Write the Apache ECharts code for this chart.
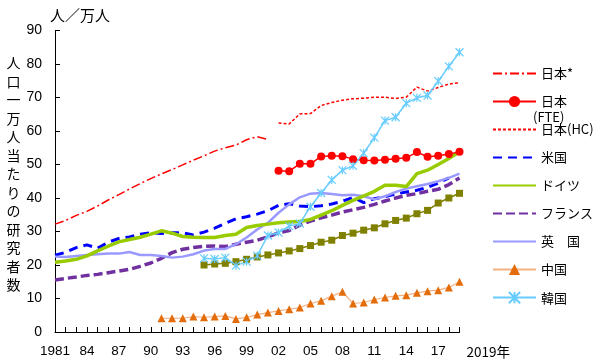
<!DOCTYPE html>
<html><head><meta charset="utf-8">
<script src="https://cdn.jsdelivr.net/npm/echarts@6/dist/echarts.min.js"></script>
<style>html,body{margin:0;padding:0;background:#fff}#c{width:600px;height:364px}</style>
</head><body><div id="c"></div>
<script>
// ---- data (researchers per 10,000 population) ----
const xMin = 1981, xMax = 2019;
const japanOldStart = 1981;
const japanOld = [32.2, 33.3, 34.8, 36.0, 37.6, 39.4, 41.0, 42.7, 44.3, 45.8, 47.2, 48.5, 49.9, 51.3, 52.6, 54.0, 55.0, 55.8, 57.4, 58.3, 57.5];
const japanFteStart = 2002;
const japanFte = [48.1, 48.0, 50.2, 50.2, 52.4, 52.6, 52.5, 51.6, 51.3, 51.2, 51.4, 51.7, 52.0, 53.7, 52.3, 52.6, 53.1, 53.8];
const japanHcStart = 2002;
const japanHc = [62.4, 62.1, 65.1, 65.2, 67.6, 68.5, 69.2, 69.6, 69.8, 70.1, 70.1, 69.7, 70.1, 73.1, 71.9, 73.0, 74.0, 74.4];
const usStart = 1981;
const us = [22.9, 23.8, 25.2, 26.0, 25.0, 26.8, 27.9, 28.4, 29.2, 29.6,
            29.4, 29.6, 29.6, 29.0, 29.8, 31.0, 32.4, 33.8, 34.4, 35.2,
            36.2, 37.8, 38.3, 37.6, 37.4, 37.7, 38.2, 39.0, 40.2, 38.6,
            39.8, 40.4, 41.2, 41.8, 42.3, 43.2, 44.4, 46.0];
const germanyStart = 1981;
const germany = [20.8, 21.2, 21.7, 22.7, 24.2, 25.6, 26.9, 27.6, 28.3, 29.2,
                 30.2, 29.5, 28.5, 28.3, 28.2, 28.2, 28.8, 29.2, 31.2, 31.8,
                 32.2, 32.6, 32.8, 33.0, 33.6, 34.9, 36.2, 37.8, 39.3, 40.6,
                 42.0, 43.8, 43.8, 43.4, 47.3, 48.3, 50.0, 51.8, 53.8];
const franceStart = 1981;
const france = [15.5, 16.0, 16.4, 16.9, 17.2, 17.7, 18.2, 18.7, 19.6, 20.6,
                22.0, 23.7, 24.7, 25.2, 25.6, 25.7, 25.5, 26.2, 26.8, 27.4,
                28.4, 29.6, 30.3, 31.9, 33.1, 34.1, 34.9, 35.8, 36.5, 37.2,
                38.1, 39.1, 40.0, 40.8, 41.3, 42.0, 42.6, 44.0, 46.0];
const ukStart = 1981;
const uk = [22.5, 22.4, 22.7, 23.0, 23.2, 23.4, 23.4, 23.9, 23.0, 23.0,
            22.7, 22.2, 22.5, 23.2, 24.3, 24.8, 24.8, 26.2, 28.2, 30.6,
            32.6, 35.6, 38.1, 40.2, 41.3, 41.5, 41.2, 40.8, 41.0, 40.5,
            39.6, 40.5, 41.8, 42.8, 43.5, 44.2, 45.0, 46.0, 47.3];
const chinaStart = 1991;
const china = [4.1, 4.1, 4.1, 4.6, 4.4, 4.6, 4.8, 3.9, 4.4, 5.2,
               5.8, 6.3, 6.8, 7.3, 8.5, 9.3, 10.7, 12.0, 8.5, 8.8,
               9.7, 10.3, 10.8, 11.0, 11.7, 12.2, 12.5, 13.3, 15.0];
const koreaStart = 1995;
const korea = [22.0, 21.8, 22.2, 19.8, 21.0, 22.8,
               28.8, 29.7, 31.6, 32.4, 37.4, 41.5, 45.4, 48.3, 49.6, 53.4,
               58.0, 63.1, 64.1, 68.3, 69.9, 70.6, 74.9, 79.3, 83.5];
const euStart = 1995;
const eu = [20.0, 20.3, 20.5, 21.0, 21.7, 22.4,
            23.0, 23.6, 24.2, 24.9, 25.8, 26.8, 27.4, 28.8, 29.5, 30.4,
            31.1, 32.3, 33.3, 34.0, 35.3, 36.3, 38.5, 40.0, 41.4];
const legendNames = ['日本*', '日本(FTE)', '日本(HC)', '米国', 'ドイツ', 'フランス', '英　国', '中国', '韓国'];
const markerSeries = ['日本(FTE)', '中国', '韓国'];
const yTitle = '人口一万人当たりの研究者数';
const yUnit = '人／万人';
const xEndName = '2019年';

function pairs(start, vals) { return vals.map((v, i) => [start + i, v]); }

const numFont = '"Liberation Sans", Arial, sans-serif';
const jpFont = '"Noto Sans CJK JP", sans-serif';

function plainLine(name, start, vals, color, width, type) {
  return { name, type: 'line', data: pairs(start, vals), symbol: 'none',
    itemStyle: { color, opacity: 0 },
    lineStyle: { color, width, type: type || 'solid' } };
}

const chart = echarts.init(document.getElementById('c'));
chart.setOption({
  animation: false,
  backgroundColor: '#fff',
  grid: { left: 55, right: 140.5, top: 30.5, bottom: 32, outerBoundsMode: 'none' },
  xAxis: {
    type: 'value', min: xMin, max: xMax, interval: 1,
    axisLine: { show: true, lineStyle: { color: '#000', width: 1 } },
    axisTick: { show: true, inside: true, length: 5, lineStyle: { color: '#000' } },
    splitLine: { show: false },
    axisLabel: {
      color: '#000', fontFamily: numFont, fontSize: 13.5, margin: 12,
      formatter: v => ((v - xMin) % 3 === 0 && v !== xMax) ? (v === xMin ? String(v) : String(v).slice(2)) : ''
    },
    name: xEndName, nameLocation: 'end', nameGap: 7,
    nameTextStyle: { color: '#000', fontFamily: jpFont, fontSize: 13.5, verticalAlign: 'top', align: 'left', padding: [13, 0, 0, 0] }
  },
  yAxis: {
    type: 'value', min: 0, max: 90, interval: 10,
    axisLine: { show: true, lineStyle: { color: '#000', width: 1 } },
    axisTick: { show: true, inside: true, length: 5, lineStyle: { color: '#000' } },
    splitLine: { show: false },
    axisLabel: { color: '#000', fontFamily: numFont, fontSize: 14, margin: 13 },
    name: yUnit, nameLocation: 'end', nameGap: 8,
    nameTextStyle: { color: '#000', fontFamily: jpFont, fontSize: 15, align: 'center', padding: [0, 0, 0, 50] }
  },
  legend: {
    data: legendNames.map(n => markerSeries.includes(n) ? { name: n } : { name: n, itemStyle: { opacity: 0 } }),
    orient: 'vertical', left: 487, top: 62,
    itemWidth: 43, itemHeight: 14, itemGap: 15,
    formatter: n => n === '日本(FTE)' ? '日本' : n,
    textStyle: { color: '#000', fontFamily: jpFont, fontSize: 13 },
    selectedMode: false
  },
  graphic: [
    { type: 'text', x: 13.5, y: 174, style: { text: yTitle.split('').join('\n'), font: '14px ' + jpFont, lineHeight: 18.5, align: 'center', verticalAlign: 'middle', fill: '#000' } },
    { type: 'text', x: 533, y: 117, style: { text: '(FTE)', font: '13px ' + jpFont, align: 'left', verticalAlign: 'middle', fill: '#000' } }
  ],
  series: [
    { name: 'EU', type: 'line', data: pairs(euStart, eu), symbol: 'rect', symbolSize: 7,
      itemStyle: { color: '#808000' }, lineStyle: { color: '#808000', width: 1.5 } },
    { name: '中国', type: 'line', data: pairs(chinaStart, china), symbol: 'triangle', symbolSize: 8,
      itemStyle: { color: '#E46C0A' }, lineStyle: { color: '#F4B183', width: 1.2 } },
    plainLine('フランス', franceStart, france, '#7030A0', 3.5, [9, 4]),
    plainLine('米国', usStart, us, '#0000FF', 3, [9, 6]),
    plainLine('英　国', ukStart, uk, '#9999FF', 2.5),
    plainLine('ドイツ', germanyStart, germany, '#99CC00', 3.5),
    plainLine('日本*', japanOldStart, japanOld, '#FF0000', 1.5, [9, 3, 2, 3]),
    plainLine('日本(HC)', japanHcStart, japanHc, '#FF0000', 1.5, [3, 2]),
    { name: '日本(FTE)', type: 'line', data: pairs(japanFteStart, japanFte), symbol: 'circle', symbolSize: 8,
      itemStyle: { color: '#FF0000' }, lineStyle: { color: '#FF0000', width: 1.5 } },
    { name: '韓国', type: 'line', data: pairs(koreaStart, korea), symbol: 'path://M0 0L10 10M10 0L0 10M5 0L5 10', symbolSize: 8,
      itemStyle: { color: '#66CCFF', borderColor: '#66CCFF', borderWidth: 1.2 }, lineStyle: { color: '#66CCFF', width: 1.5 } }
  ]
});
</script>
</body></html>
